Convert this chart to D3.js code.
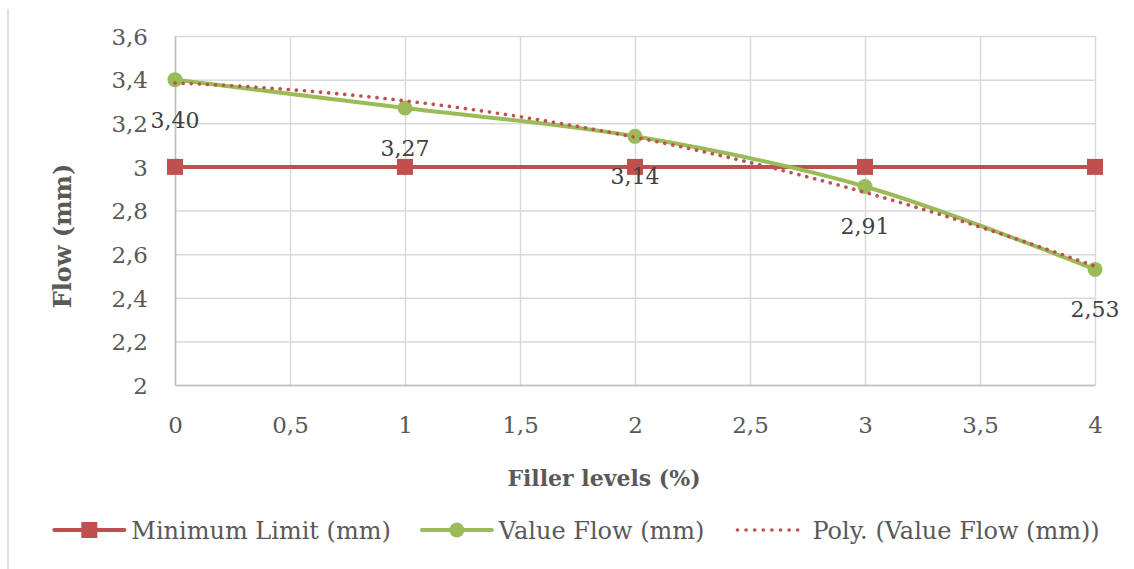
<!DOCTYPE html>
<html>
<head>
<meta charset="utf-8">
<script src="https://cdn.jsdelivr.net/npm/d3@7"></script>
<style>
  body { margin: 0; background: #fff; }
  text { font-family: "DejaVu Serif", serif; }
</style>
</head>
<body>
<svg id="chart" width="1134" height="569"></svg>
<script>
const fillerLevels = [0, 1, 2, 3, 4];
const valueFlow = [3.40, 3.27, 3.14, 2.91, 2.53];
const minimumLimit = [3, 3, 3, 3, 3];
const xTicks = [0, 0.5, 1, 1.5, 2, 2.5, 3, 3.5, 4];
const yTicks = [2, 2.2, 2.4, 2.6, 2.8, 3, 3.2, 3.4, 3.6];
const seriesNames = ["Minimum Limit (mm)", "Value Flow (mm)", "Poly. (Value Flow (mm))"];
const trendOrder = 2;

const red = "#c0504d";
const green = "#9bbb59";
const margin = { top: 36, right: 39, bottom: 184, left: 175 };
const width = 1134, height = 569;

const locale = d3.formatLocale({ decimal: ",", thousands: ".", grouping: [3], currency: ["", "€"] });
const tickFmt = v => locale.format("~r")(+v.toFixed(2));
const labelFmt = locale.format(".2f");

// least squares polynomial fit, like excel's "Poly." trendline
function polyFit(xs, ys, order) {
  const n = order + 1;
  const A = d3.range(n).map(i => d3.range(n).map(j => d3.sum(xs, x => Math.pow(x, i + j))));
  const b = d3.range(n).map(i => d3.sum(xs, (x, k) => Math.pow(x, i) * ys[k]));
  for (let c = 0; c < n; c++) {
    for (let r = c + 1; r < n; r++) {
      const f = A[r][c] / A[c][c];
      for (let k = c; k < n; k++) A[r][k] -= f * A[c][k];
      b[r] -= f * b[c];
    }
  }
  const coef = new Array(n).fill(0);
  for (let r = n - 1; r >= 0; r--) {
    let s = b[r];
    for (let k = r + 1; k < n; k++) s -= A[r][k] * coef[k];
    coef[r] = s / A[r][r];
  }
  return x => d3.sum(coef, (c, i) => c * Math.pow(x, i));
}

const svg = d3.select("#chart");

const x = d3.scaleLinear().domain([0, 4]).range([margin.left, width - margin.right]);
const y = d3.scaleLinear().domain([2, 3.6]).range([height - margin.bottom, margin.top]);

// outer frame edge on the left
svg.append("line")
  .attr("x1", 8).attr("x2", 8).attr("y1", 9).attr("y2", height)
  .attr("stroke", "#d9d9d9").attr("stroke-width", 1.5);

// gridlines
svg.append("g")
  .attr("transform", `translate(0,${y.range()[0]})`)
  .call(d3.axisBottom(x).tickValues(xTicks).tickSize(-(y.range()[0] - y.range()[1])).tickFormat(""))
  .call(g => g.select(".domain").remove())
  .call(g => g.selectAll("line").attr("stroke", "#d9d9d9").attr("stroke-width", 1.5));

svg.append("g")
  .attr("transform", `translate(${x.range()[0]},0)`)
  .call(d3.axisLeft(y).tickValues(yTicks).tickSize(-(x.range()[1] - x.range()[0])).tickFormat(""))
  .call(g => g.select(".domain").remove())
  .call(g => g.selectAll("line").attr("stroke", "#d9d9d9").attr("stroke-width", 1.5));

// axis lines + labels
svg.append("g")
  .attr("transform", `translate(0,${y.range()[0]})`)
  .call(d3.axisBottom(x).tickValues(xTicks).tickSize(0).tickPadding(0).tickFormat(tickFmt))
  .call(g => g.select(".domain").attr("stroke", "#bfbfbf").attr("stroke-width", 1.5))
  .call(g => g.selectAll("text")
    .attr("y", 48).attr("dy", null)
    .attr("fill", "#595959").style("font-size", "23px"));

svg.append("g")
  .attr("transform", `translate(${x.range()[0]},0)`)
  .call(d3.axisLeft(y).tickValues(yTicks).tickSize(0).tickPadding(27).tickFormat(tickFmt))
  .call(g => g.select(".domain").attr("stroke", "#bfbfbf").attr("stroke-width", 1.5))
  .call(g => g.selectAll("text")
    .attr("dy", "0.36em")
    .attr("fill", "#595959").style("font-size", "23px"));

// axis titles
svg.append("text")
  .text("Filler levels (%)")
  .attr("x", 604).attr("y", 486)
  .attr("text-anchor", "middle")
  .attr("fill", "#595959")
  .style("font-weight", "bold").style("font-size", "22px");

svg.append("text")
  .text("Flow (mm)")
  .attr("transform", "translate(71,236) rotate(-90)")
  .attr("text-anchor", "middle")
  .attr("fill", "#595959")
  .style("font-weight", "bold").style("font-size", "24px");

// series
const minData = fillerLevels.map((f, i) => ({ x: f, y: minimumLimit[i] }));
const flowData = fillerLevels.map((f, i) => ({ x: f, y: valueFlow[i] }));
const trend = polyFit(fillerLevels, valueFlow, trendOrder);
const trendData = d3.range(0, 4.0001, 0.05).map(v => ({ x: v, y: trend(v) }));

const line = d3.line().x(d => x(d.x)).y(d => y(d.y));

svg.append("path")
  .datum(minData)
  .attr("d", line)
  .attr("fill", "none").attr("stroke", red).attr("stroke-width", 4);

svg.selectAll(".min-marker")
  .data(minData)
  .enter()
  .append("rect")
  .attr("class", "min-marker")
  .attr("x", d => x(d.x) - 8).attr("y", d => y(d.y) - 8)
  .attr("width", 16).attr("height", 16)
  .attr("fill", red);

svg.append("path")
  .datum(flowData)
  .attr("d", line.curve(d3.curveCatmullRom.alpha(0.5)))
  .attr("fill", "none").attr("stroke", green).attr("stroke-width", 4);

svg.selectAll(".flow-marker")
  .data(flowData)
  .enter()
  .append("circle")
  .attr("class", "flow-marker")
  .attr("cx", d => x(d.x)).attr("cy", d => y(d.y))
  .attr("r", 7.5)
  .attr("fill", green);

svg.append("path")
  .datum(trendData)
  .attr("d", d3.line().x(d => x(d.x)).y(d => y(d.y)))
  .attr("fill", "none").attr("stroke", red).attr("stroke-width", 3.6)
  .attr("stroke-linecap", "round").attr("stroke-dasharray", "0.1 8");

// data labels (below)
svg.selectAll(".flow-label")
  .data(flowData)
  .enter()
  .append("text")
  .attr("class", "flow-label")
  .text(d => labelFmt(d.y))
  .attr("x", d => x(d.x)).attr("y", d => y(d.y) + 40)
  .attr("dy", "0.36em")
  .attr("text-anchor", "middle")
  .attr("fill", "#404040")
  .style("font-size", "22px");

// legend
const legendY = 530;
const legend = svg.append("g");
const items = legend.selectAll("g")
  .data(seriesNames)
  .enter()
  .append("g");

items.append("text")
  .text(d => d)
  .attr("x", 77).attr("y", legendY).attr("dy", "0.36em")
  .attr("fill", "#595959")
  .style("font-size", "24px");

items.each(function (d, i) {
  const g = d3.select(this);
  if (i === 2) {
    g.append("line")
      .attr("x1", 2).attr("x2", 70).attr("y1", legendY).attr("y2", legendY)
      .attr("stroke", red).attr("stroke-width", 3.6)
      .attr("stroke-linecap", "round").attr("stroke-dasharray", "0.1 8.5");
  } else {
    g.append("line")
      .attr("x1", 0).attr("x2", 70).attr("y1", legendY).attr("y2", legendY)
      .attr("stroke", i === 0 ? red : green).attr("stroke-width", 4)
      .attr("stroke-linecap", "round");
    if (i === 0) {
      g.append("rect").attr("x", 27).attr("y", legendY - 8).attr("width", 16).attr("height", 16).attr("fill", red);
    } else {
      g.append("circle").attr("cx", 35).attr("cy", legendY).attr("r", 7.5).attr("fill", green);
    }
  }
});

let offset = 0;
const widths = [];
items.each(function () {
  const w = 77 + this.querySelector("text").getComputedTextLength();
  widths.push(w);
});
const gap = 31;
const total = d3.sum(widths) + gap * (widths.length - 1);
offset = 577 - total / 2;
items.attr("transform", (d, i) => {
  const t = `translate(${offset},0)`;
  offset += widths[i] + gap;
  return t;
});
</script>
</body>
</html>
